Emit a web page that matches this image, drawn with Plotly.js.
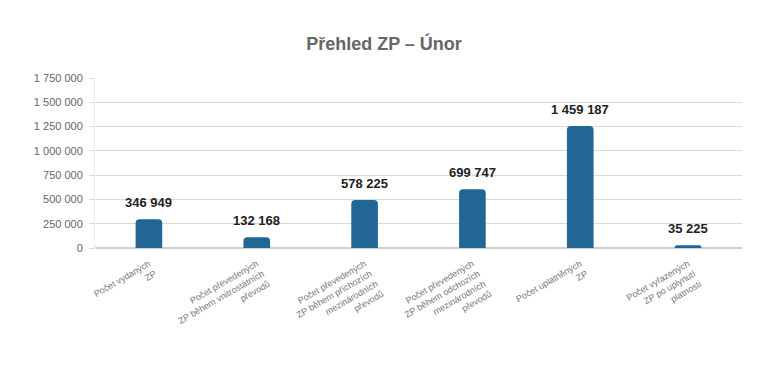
<!DOCTYPE html>
<html>
<head>
<meta charset="utf-8">
<script src="https://cdn.plot.ly/plotly-3.0.1.min.js"></script>
<style>html,body{margin:0;padding:0;background:#fff;}#chart{width:768px;height:384px;}</style>
</head>
<body>
<div id="chart"></div>
<script>
// Category labels (x axis)
var categories = [
  "Počet vydaných<br>ZP",
  "Počet převedených<br>ZP během vnitrostátních<br>převodů",
  "Počet převedených<br>ZP během příchozích<br>mezinárodních<br>převodů",
  "Počet převedených<br>ZP během odchozích<br>mezinárodních<br>převodů",
  "Počet uplatněných<br>ZP",
  "Počet vyřazených<br>ZP po uplynutí<br>platnosti"
];
// Bar heights as drawn in the picture
var barValues = [296000, 110000, 493000, 606000, 1257000, 28000];
// Data labels as printed above the bars
var labelTexts = ["346 949", "132 168", "578 225", "699 747", "1 459 187", "35 225"];
// Y axis ticks
var yTicks = [0, 250000, 500000, 750000, 1000000, 1250000, 1500000, 1750000];

var trace = {
  type: "bar",
  x: categories,
  y: barValues,
  marker: {color: "#216694", cornerradius: 4},
  hoverinfo: "none"
};

var annotations = categories.map(function (c, i) {
  return {
    x: c, y: barValues[i], xref: "x", yref: "y",
    text: labelTexts[i], showarrow: false,
    yanchor: "bottom", yshift: 7,
    font: {family: "Liberation Sans, Arial, sans-serif", size: 13, color: "#222222", weight: "bold"}
  };
});

var layout = {
  width: 768, height: 384,
  margin: {l: 95, r: 26, t: 78, b: 136},
  paper_bgcolor: "#ffffff", plot_bgcolor: "#ffffff",
  separators: ", ",
  showlegend: false,
  bargap: 0.753,
  title: {
    text: "<b>Přehled ZP – Únor</b>",
    x: 0.5, xanchor: "center", y: 0.885, yanchor: "middle",
    font: {family: "Liberation Sans, Arial, sans-serif", size: 18, color: "#666666"}
  },
  xaxis: {
    type: "category",
    tickangle: -30,
    tickfont: {family: "Liberation Sans, Arial, sans-serif", size: 9, color: "#777777"},
    showgrid: false, showline: false, zeroline: false,
    ticks: "",
    ticklabelstandoff: 8
  },
  yaxis: {
    range: [0, 1750000],
    tickvals: yTicks,
    tickformat: ",d",
    tickfont: {family: "Liberation Sans, Arial, sans-serif", size: 11, color: "#666666"},
    showgrid: true, gridcolor: "#d9d9d9", gridwidth: 1,
    zeroline: true, zerolinecolor: "#cfcfcf", zerolinewidth: 2,
    showline: true, linecolor: "#ececec", linewidth: 1,
    ticks: "outside", ticklen: 5, tickcolor: "#d9d9d9",
    ticklabelstandoff: 4
  },
  annotations: annotations
};

Plotly.newPlot("chart", [trace], layout, {staticPlot: true, displayModeBar: false});
</script>
</body>
</html>
